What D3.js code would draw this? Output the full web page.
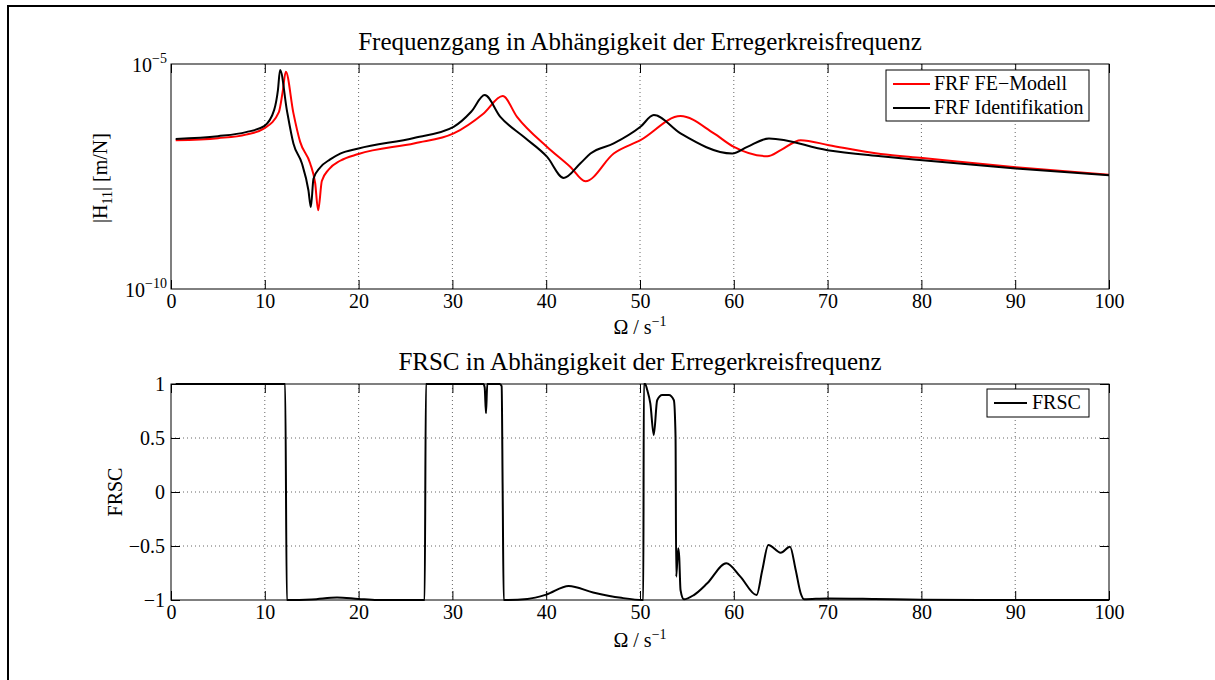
<!DOCTYPE html>
<html>
<head>
<meta charset="utf-8">
<script src="https://cdn.jsdelivr.net/npm/d3@7"></script>
<style>
  body { margin: 0; background: #fff; }
  text { font-family: "Liberation Serif", "Times New Roman", serif; fill: #000; }
</style>
</head>
<body>
<svg id="chart" width="1215" height="680"></svg>
<script>
// FRF FE-Modell (log10 of |H11| in m/N)
const freqFe = [0.5, 5, 8, 9.93, 11.5, 11.9, 12.24, 13.05, 13.77, 14.83, 15.37, 15.69, 16.08, 16.79, 18.04, 19.99, 26, 30.13, 33.33, 35.36, 36.89, 40.1, 42.58, 44.18, 47.2, 50.05, 54.32, 57.88, 60.01, 63.58, 65.0, 67.13, 70.15, 75.67, 80.12, 90.07, 100];
const logFe = [-6.693, -6.648, -6.57, -6.432, -6.069, -5.624, -5.171, -6.091, -6.731, -7.205, -7.65, -8.252, -7.6, -7.35, -7.15, -7.0, -6.759, -6.543, -6.098, -5.713, -6.174, -6.842, -7.287, -7.606, -6.989, -6.693, -6.158, -6.543, -6.842, -7.049, -6.915, -6.693, -6.804, -7.0, -7.09, -7.294, -7.461];

// FRF Identifikation
const freqId = [0.5, 5, 8, 9.93, 11.0, 11.4, 11.63, 12.35, 13.05, 13.95, 14.65, 14.91, 15.19, 15.9, 16.97, 18.04, 19.99, 26, 30.13, 32, 33.44, 35.11, 37.6, 40.1, 41.87, 43.65, 44.72, 47.2, 50.05, 51.47, 54.32, 59.84, 61.44, 63.75, 69.98, 75.67, 80.12, 90.07, 100];
const logId = [-6.664, -6.604, -6.514, -6.381, -6.02, -5.58, -5.134, -6.024, -6.766, -7.205, -7.806, -8.178, -7.55, -7.3, -7.12, -6.99, -6.877, -6.637, -6.396, -6.062, -5.69, -6.174, -6.619, -7.065, -7.532, -7.205, -6.989, -6.766, -6.396, -6.136, -6.543, -6.989, -6.842, -6.655, -6.915, -7.05, -7.14, -7.323, -7.472];

// FRSC
const freqFrsc = [0.5, 12.17, 12.35, 15, 17.7, 20, 22, 27.04, 27.18, 33.3, 33.44, 33.58, 33.72, 35.04, 35.25, 35.36, 35.47, 38, 40, 42.4, 45, 48, 50.35, 50.41, 50.55, 50.77, 51.1, 51.47, 51.83, 52.37, 53.08, 53.61, 53.79, 53.86, 54.07, 54.18, 54.32, 54.68, 55.74, 57.17, 59.2, 60.7, 62.43, 63.04, 63.68, 65.0, 65.99, 66.6, 67.13, 67.49, 70, 75, 80, 90, 100];
const frsc = [1, 1, -1, -0.995, -0.976, -0.99, -1, -1, 1, 1, 0.97, 0.729, 1, 1, 0.98, 0, -1, -0.99, -0.95, -0.87, -0.93, -0.98, -1, 1, 1, 0.944, 0.82, 0.528, 0.85, 0.898, 0.898, 0.85, 0.51, -0.784, -0.521, -0.599, -0.907, -0.994, -0.954, -0.845, -0.66, -0.784, -0.954, -0.722, -0.49, -0.562, -0.506, -0.722, -0.938, -0.994, -0.985, -0.99, -0.997, -1, -1];

const xTicks = [0, 10, 20, 30, 40, 50, 60, 70, 80, 90, 100];
const frscTicks = [-1, -0.5, 0, 0.5, 1];
const magTicks = [1e-10, 1e-5];

const svg = d3.select('#chart');
const fs = 20, fsTitle = 25, fsSup = 14;
const left = 171, right = 1109;

// outer frame
svg.append('rect')
  .attr('x', 8).attr('y', 6).attr('width', 1400).attr('height', 900)
  .attr('fill', 'none').attr('stroke', '#000').attr('stroke-width', 2);

const x1 = d3.scaleLinear().domain([0, 100]).range([left, right]);

function gridX(g, x, y0, y1) {
  g.append('g').selectAll('line').data(xTicks.slice(1, -1)).enter().append('line')
    .attr('x1', d => x(d)).attr('x2', d => x(d))
    .attr('y1', y0).attr('y2', y1)
    .attr('stroke', '#666').attr('stroke-dasharray', '1,3');
}

function xAxes(g, x, y0, y1) {
  g.append('g')
    .attr('transform', 'translate(0,' + y1 + ')')
    .call(d3.axisBottom(x).tickValues(xTicks).tickSizeInner(-9).tickSizeOuter(0).tickPadding(5))
    .call(a => a.selectAll('text').style('font-size', fs + 'px'));
  g.append('g')
    .attr('transform', 'translate(0,' + y0 + ')')
    .call(d3.axisTop(x).tickValues(xTicks).tickSizeInner(-9).tickSizeOuter(0).tickFormat(''));
  g.selectAll('.domain').remove();
}

function xLabel(y) {
  const t = svg.append('text').attr('x', 640).attr('y', y)
    .attr('text-anchor', 'middle').style('font-size', fs + 'px');
  t.append('tspan').text('\u03A9 / s');
  t.append('tspan').attr('dy', -8).style('font-size', fsSup + 'px').text('\u22121');
}

// ---------- top plot ----------
const t0 = 64, t1 = 289;
const yMag = d3.scaleLog().domain([1e-10, 1e-5]).range([t1, t0]);

const topPlot = svg.append('g');
gridX(topPlot, x1, t0, t1);

const magLine = d3.line()
  .x(d => x1(d[0]))
  .y(d => yMag(Math.pow(10, d[1])))
  .curve(d3.curveMonotoneX);

topPlot.append('path')
  .datum(freqFe.map((f, i) => [f, logFe[i]]))
  .attr('d', magLine).attr('fill', 'none').attr('stroke', '#ff0000').attr('stroke-width', 2);
topPlot.append('path')
  .datum(freqId.map((f, i) => [f, logId[i]]))
  .attr('d', magLine).attr('fill', 'none').attr('stroke', '#000').attr('stroke-width', 2);

xAxes(topPlot, x1, t0, t1);

const yAxTop = topPlot.append('g')
  .attr('transform', 'translate(' + left + ',0)')
  .call(d3.axisLeft(yMag).tickValues(magTicks).tickSize(0).tickPadding(4).tickFormat(''));
yAxTop.select('.domain').remove();
yAxTop.selectAll('.tick text').each(function (d) {
  const t = d3.select(this).style('font-size', fs + 'px').attr('dy', '0.35em');
  t.append('tspan').text('10');
  t.append('tspan').attr('dy', -9).style('font-size', fsSup + 'px').text('\u2212' + Math.round(-Math.log10(d)));
});

topPlot.append('rect')
  .attr('x', left).attr('y', t0).attr('width', right - left).attr('height', t1 - t0)
  .attr('fill', 'none').attr('stroke', '#000');

svg.append('text').attr('x', 640).attr('y', 50).attr('text-anchor', 'middle')
  .style('font-size', fsTitle + 'px').text('Frequenzgang in Abh\u00e4ngigkeit der Erregerkreisfrequenz');
xLabel(334);

const yl1 = svg.append('text')
  .attr('transform', 'translate(107,178) rotate(-90)')
  .attr('text-anchor', 'middle').style('font-size', fs + 'px');
yl1.append('tspan').text('|H');
yl1.append('tspan').attr('dy', 5).style('font-size', fsSup + 'px').text('11');
yl1.append('tspan').attr('dy', -5).text('| [m/N]');

// legend top
const lg1 = svg.append('g');
lg1.append('rect').attr('x', 886).attr('y', 70).attr('width', 203).attr('height', 51)
  .attr('fill', '#fff').attr('stroke', '#000');
[['FRF FE\u2212Modell', '#ff0000', 84], ['FRF Identifikation', '#000', 108]].forEach(e => {
  lg1.append('line').attr('x1', 893).attr('x2', 930).attr('y1', e[2]).attr('y2', e[2])
    .attr('stroke', e[1]).attr('stroke-width', 2);
  lg1.append('text').attr('x', 934).attr('y', e[2] + 6).style('font-size', fs + 'px').text(e[0]);
});

// ---------- bottom plot ----------
const b0 = 384, b1 = 600;
const yFrsc = d3.scaleLinear().domain([-1, 1]).range([b1, b0]);

const botPlot = svg.append('g');
gridX(botPlot, x1, b0, b1);
botPlot.append('g').selectAll('line').data([-0.5, 0, 0.5]).enter().append('line')
  .attr('x1', left).attr('x2', right)
  .attr('y1', d => yFrsc(d)).attr('y2', d => yFrsc(d))
  .attr('stroke', '#666').attr('stroke-dasharray', '1,3');

botPlot.append('path')
  .datum(freqFrsc.map((f, i) => [f, frsc[i]]))
  .attr('d', d3.line().x(d => x1(d[0])).y(d => yFrsc(d[1])).curve(d3.curveMonotoneX))
  .attr('fill', 'none').attr('stroke', '#000').attr('stroke-width', 2);

xAxes(botPlot, x1, b0, b1);

const fmt = d => d === 0 ? '0' : (d < 0 ? '\u2212' : '') + Math.abs(d);
const yAxBot = botPlot.append('g')
  .attr('transform', 'translate(' + left + ',0)')
  .call(d3.axisLeft(yFrsc).tickValues(frscTicks).tickSizeInner(-9).tickSizeOuter(0).tickPadding(6).tickFormat(fmt));
yAxBot.selectAll('text').style('font-size', fs + 'px');
yAxBot.select('.domain').remove();
const yAxBotR = botPlot.append('g')
  .attr('transform', 'translate(' + right + ',0)')
  .call(d3.axisRight(yFrsc).tickValues(frscTicks).tickSizeInner(-9).tickSizeOuter(0).tickFormat(''));
yAxBotR.select('.domain').remove();

botPlot.append('rect')
  .attr('x', left).attr('y', b0).attr('width', right - left).attr('height', b1 - b0)
  .attr('fill', 'none').attr('stroke', '#000');

svg.append('text').attr('x', 640).attr('y', 370).attr('text-anchor', 'middle')
  .style('font-size', fsTitle + 'px').text('FRSC in Abh\u00e4ngigkeit der Erregerkreisfrequenz');
xLabel(647);

svg.append('text')
  .attr('transform', 'translate(122,492) rotate(-90)')
  .attr('text-anchor', 'middle').style('font-size', fs + 'px').text('FRSC');

// legend bottom
const lg2 = svg.append('g');
lg2.append('rect').attr('x', 987).attr('y', 389).attr('width', 102).attr('height', 28)
  .attr('fill', '#fff').attr('stroke', '#000');
lg2.append('line').attr('x1', 994).attr('x2', 1027).attr('y1', 403).attr('y2', 403)
  .attr('stroke', '#000').attr('stroke-width', 2);
lg2.append('text').attr('x', 1032).attr('y', 409).style('font-size', fs + 'px').text('FRSC');
</script>
</body>
</html>
